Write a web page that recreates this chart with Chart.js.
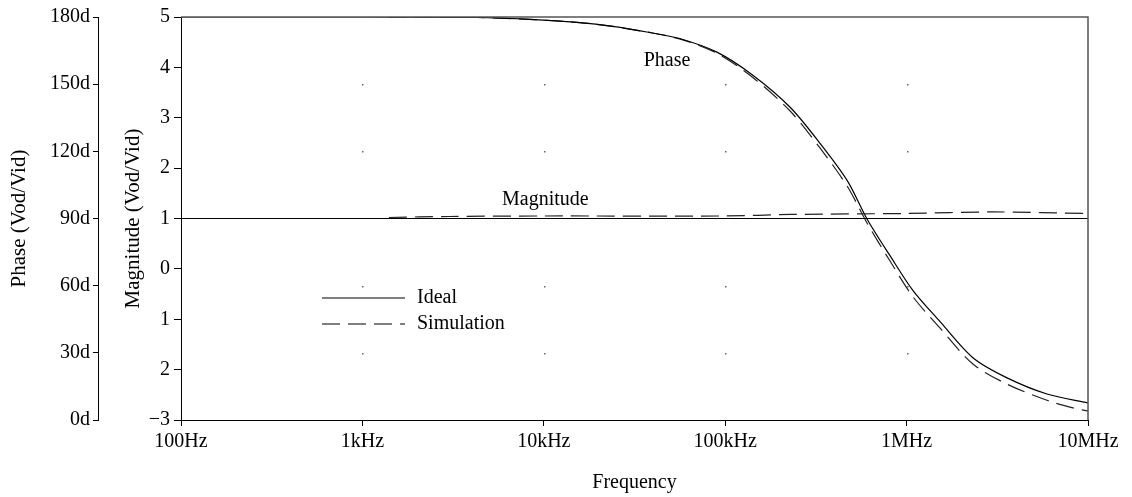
<!DOCTYPE html>
<html>
<head>
<meta charset="utf-8">
<script src="https://cdn.jsdelivr.net/npm/chart.js@4.4.0/dist/chart.umd.min.js"></script>
<style>
  html, body { margin: 0; padding: 0; background: #fff; }
  #wrap { width: 1132px; height: 497px; }
</style>
</head>
<body>
<div id="wrap"><canvas id="bode" width="1132" height="497"></canvas></div>
<script>
// x axis decades and their labels
const freqTicks = [100, 1e3, 1e4, 1e5, 1e6, 1e7];
const freqTickLabels = ['100Hz', '1kHz', '10kHz', '100kHz', '1MHz', '10MHz'];
// magnitude tick labels as printed on the plot (bottom to top, -3..5)
const magTickLabels = ['\u22123', '2', '1', '0', '1', '2', '3', '4', '5'];

// phase, ideal (degrees)
const freqIdeal = [100, 1000, 4300, 8900, 15800, 24000, 37000, 56000, 90000, 142000, 228000,
  333000, 470000, 605000, 810000, 1085000, 1530000, 2320000, 3580000, 5940000, 10000000];
const phaseIdeal = [180, 180, 179.8, 178.8, 177.5, 175.8, 173.3, 170.4, 164.3, 154.0, 139.7,
  123.6, 107.0, 89.8, 73.4, 57.8, 43.9, 27.8, 18.8, 11.6, 7.6];

// phase, simulation (degrees)
const freqSim = [1400, 4300, 8900, 15800, 24000, 37000, 56000, 90000, 142000, 228000, 333000,
  470000, 605000, 810000, 1085000, 1530000, 2320000, 3580000, 5940000, 8260000, 10000000];
const phaseSim = [179.9, 179.8, 178.8, 177.5, 175.8, 173.3, 170.2, 163.8, 153.0, 138.0, 121.5,
  104.5, 88.0, 71.0, 55.0, 41.0, 25.0, 16.0, 8.8, 5.4, 4.0];

// magnitude (Vod/Vid)
const freqMagIdeal = [100, 10000000];
const magIdeal = [1, 1];
const freqMagSim = [1400, 3000, 10000, 100000, 230000, 1000000, 3000000, 10000000];
const magSim = [1.02, 1.04, 1.05, 1.05, 1.08, 1.1, 1.13, 1.1];

const serif = "'Liberation Serif', 'Times New Roman', serif";
Chart.defaults.font.family = serif;
Chart.defaults.font.size = 20;
Chart.defaults.color = '#000';

const pts = (xs, ys) => xs.map((x, i) => ({ x: x, y: ys[i] }));
const dash = [18, 8];

const decor = {
  id: 'decor',
  beforeDatasetsDraw(chart) {
    const { ctx, scales } = chart;
    ctx.save();
    ctx.fillStyle = '#666';
    [1e3, 1e4, 1e5, 1e6].forEach(f => {
      [30, 60, 120, 150].forEach(p => {
        const x = Math.round(scales.x.getPixelForValue(f));
        const y = Math.round(scales.phase.getPixelForValue(p));
        ctx.fillRect(x, y, 1.5, 1.5);
      });
    });
    ctx.restore();
  },
  afterDraw(chart) {
    const { ctx, chartArea: a, scales } = chart;
    ctx.save();
    // top and right frame
    ctx.strokeStyle = '#555';
    ctx.lineWidth = 1.5;
    ctx.beginPath();
    ctx.moveTo(a.left, a.top);
    ctx.lineTo(a.right, a.top);
    ctx.lineTo(a.right, a.bottom);
    ctx.stroke();

    // curve labels
    ctx.font = '20px ' + serif;
    ctx.fillStyle = '#000';
    ctx.textAlign = 'center';
    ctx.textBaseline = 'middle';
    ctx.fillText('Phase', scales.x.getPixelForValue(47800), scales.phase.getPixelForValue(160.5));
    ctx.fillText('Magnitude', scales.x.getPixelForValue(10200), scales.mag.getPixelForValue(1.38));

    // legend
    const lx0 = a.left + 141, lx1 = a.left + 224, ly = a.top + 281;
    ctx.strokeStyle = '#000';
    ctx.lineWidth = 1.2;
    ctx.beginPath();
    ctx.moveTo(lx0, ly); ctx.lineTo(lx1, ly);
    ctx.stroke();
    ctx.setLineDash(dash);
    ctx.beginPath();
    ctx.moveTo(lx0, ly + 26); ctx.lineTo(lx1, ly + 26);
    ctx.stroke();
    ctx.setLineDash([]);
    ctx.textAlign = 'left';
    ctx.fillText('Ideal', lx1 + 12, ly);
    ctx.fillText('Simulation', lx1 + 12, ly + 26);
    ctx.restore();
  }
};

const line = (data, axis, dashed) => ({
  data: data,
  yAxisID: axis,
  borderColor: dashed ? '#222' : '#000',
  borderWidth: 1.2,
  borderDash: dashed ? dash : [],
  pointRadius: 0,
  tension: 0.3,
  fill: false
});

new Chart(document.getElementById('bode'), {
  type: 'line',
  data: {
    datasets: [
      line(pts(freqMagIdeal, magIdeal), 'mag', false),
      line(pts(freqMagSim, magSim), 'mag', true),
      line(pts(freqIdeal, phaseIdeal), 'phase', false),
      line(pts(freqSim, phaseSim), 'phase', true)
    ]
  },
  options: {
    responsive: false,
    animation: false,
    devicePixelRatio: 1,
    layout: { padding: { top: 17, right: 44, left: 0, bottom: 0 } },
    plugins: { legend: { display: false }, tooltip: { enabled: false } },
    scales: {
      x: {
        type: 'logarithmic',
        position: 'bottom',
        min: 100,
        max: 1e7,
        afterBuildTicks: s => { s.ticks = freqTicks.map(v => ({ value: v })); },
        afterFit: s => { s.height = 77; },
        ticks: {
          autoSkip: false, maxRotation: 0, padding: 4,
          callback: (v, i) => freqTickLabels[i]
        },
        grid: { drawOnChartArea: false, drawTicks: true, tickLength: 6, color: '#000' },
        border: { display: true, color: '#000', width: 1 },
        title: { display: true, text: 'Frequency', padding: { top: 0, bottom: 2 } }
      },
      mag: {
        type: 'linear',
        position: 'left',
        weight: 0,
        min: -3,
        max: 5,
        afterFit: s => { s.width = 83; },
        ticks: { stepSize: 1, padding: 4, callback: v => magTickLabels[v + 3] },
        grid: { drawOnChartArea: false, drawTicks: true, tickLength: 7, color: '#000' },
        border: { display: true, color: '#000', width: 1 },
        title: { display: true, text: 'Magnitude (Vod/Vid)', font: { size: 21 }, padding: { top: 23 } }
      },
      phase: {
        type: 'linear',
        position: 'left',
        weight: 1,
        min: 0,
        max: 180,
        afterFit: s => { s.width = 98; },
        ticks: { stepSize: 30, padding: 3, callback: v => v + 'd' },
        grid: { drawOnChartArea: false, drawTicks: true, tickLength: 5, color: '#000' },
        border: { display: true, color: '#000', width: 1 },
        title: { display: true, text: 'Phase (Vod/Vid)', font: { size: 21 }, padding: { top: 7 } }
      }
    }
  },
  plugins: [decor]
});
</script>
</body>
</html>
